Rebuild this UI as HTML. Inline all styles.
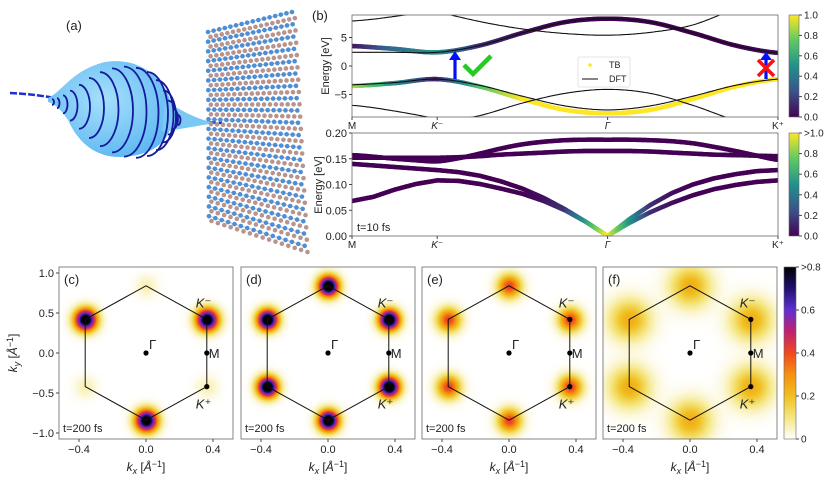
<!DOCTYPE html>
<html><head><meta charset="utf-8">
<style>
html,body{margin:0;padding:0;background:#fff;}
#wrap{position:relative;width:831px;height:479px;overflow:hidden;font-family:"Liberation Sans",sans-serif;}
canvas{position:absolute;}
svg{position:absolute;left:0;top:0;}
text{font-family:"Liberation Sans","DejaVu Sans",sans-serif;fill:#222;}
</style></head>
<body>
<div id="wrap">
<canvas id="hc" width="174" height="172" style="left:59px;top:267px"></canvas>
<canvas id="hd" width="174" height="172" style="left:241px;top:267px"></canvas>
<canvas id="he" width="174" height="172" style="left:422px;top:267px"></canvas>
<canvas id="hf" width="174" height="172" style="left:603px;top:267px"></canvas>
<svg id="svg" width="831" height="479" xmlns="http://www.w3.org/2000/svg">
<defs>
<linearGradient id="vir" x1="0" y1="1" x2="0" y2="0">
<stop offset="0" stop-color="#440154"/><stop offset="0.25" stop-color="#3b528b"/><stop offset="0.5" stop-color="#21918c"/><stop offset="0.75" stop-color="#5ec962"/><stop offset="1" stop-color="#fde725"/>
</linearGradient>
<linearGradient id="cmr" x1="0" y1="1" x2="0" y2="0">
<stop offset="0" stop-color="#ffffff"/><stop offset="0.125" stop-color="#f5e680"/><stop offset="0.25" stop-color="#f0c020"/><stop offset="0.375" stop-color="#f59010"/><stop offset="0.5" stop-color="#f04820"/><stop offset="0.625" stop-color="#c02070"/><stop offset="0.75" stop-color="#6030d0"/><stop offset="0.875" stop-color="#201070"/><stop offset="1" stop-color="#000000"/>
</linearGradient>
<clipPath id="clipTop"><rect x="352" y="15" width="426" height="102"/></clipPath>
<clipPath id="clipBot"><rect x="352" y="133" width="426" height="103"/></clipPath>
<radialGradient id="bulb" cx="0.45" cy="0.4" r="0.6"><stop offset="0" stop-color="#a6e0fc"/><stop offset="1" stop-color="#62baf2"/></radialGradient>
</defs>
<g id="panelA">
<text x="66" y="30" font-size="13">(a)</text>
</g>
<g id="lattice"></g>
<g id="topPanel"></g>
<g id="botPanel"></g>
<g id="bz"></g>
</svg>
</div>
<script>
// ===== Band structure data (top panel, eV) sampled along path s=0..2.5 step 0.25 =====
const pathS = [0,0.25,0.5,0.75,1.0,1.25,1.5,1.75,2.0,2.25,2.5];
const tbCond = [3.5,3.0,2.4,3.6,5.8,7.7,8.3,7.7,5.8,3.6,2.3];
const tbCondW = [0.05,0.35,0.5,0.15,0.05,0,0,0,0,0,0.05];
const tbVal = [-3.5,-3.0,-2.3,-3.6,-5.8,-7.7,-8.3,-7.7,-5.8,-3.6,-2.3];
const tbValW = [0.9,0.5,0.1,0.7,1,1,1,1,1,1,1];
const dft1 = [2.4,2.4,2.4,3.6,5.8,7.7,8.3,7.7,5.8,3.6,2.3];
const dft2 = [-3.3,-2.9,-2.3,-3.4,-5.3,-7.0,-7.7,-7.0,-5.3,-3.4,-2.3];
const dft3 = [14,12,9.6,7.8,6.5,5.7,5.4,5.9,7.2,10,12];
const dft4 = [7.9,8.7,10,12,14,14,14,14,14,14,14];
const dft5 = [-6.9,-7.9,-9.3,-11,-13,-14,-14,-14,-14,-14,-14];
const dft6 = [-14,-12,-10,-8.7,-6.5,-4.8,-4.1,-4.8,-6.9,-9.5,-11];
const topTicks = [-5,0,5];
// ===== Bottom panel (eV), sampled s=0..2.5 step 0.125 =====
const b1 = [0.068,0.076,0.09,0.101,0.108,0.107,0.101,0.092,0.082,0.068,0.05,0.027,0.0,0.025,0.046,0.064,0.079,0.091,0.099,0.105,0.108];
const b2 = [0.14,0.137,0.134,0.131,0.128,0.124,0.117,0.106,0.092,0.074,0.052,0.027,0.0,0.032,0.06,0.083,0.1,0.112,0.12,0.126,0.128];
const b3 = [0.157,0.154,0.15,0.147,0.145,0.151,0.16,0.17,0.178,0.183,0.186,0.187,0.187,0.187,0.186,0.184,0.18,0.173,0.165,0.156,0.148];
const b4 = [0.152,0.152,0.152,0.152,0.152,0.153,0.155,0.158,0.16,0.162,0.164,0.165,0.165,0.165,0.164,0.162,0.16,0.158,0.157,0.156,0.155];
const lowW = [0,0,0,0,0,0,0,0,0,0.05,0.15,0.55,1,0.55,0.15,0.05,0,0,0,0,0];
const zeroW = [0,0,0,0,0,0,0,0,0,0,0,0,0,0,0,0,0,0,0,0,0];
const botTicks = [0,0.05,0.10,0.15,0.20];
const botTickLabels = ["0.00","0.05","0.10","0.15","0.20"];
const pathLabels = ["M","K\u207B","\u0393","K\u207A"];
const pathLabelS = [0,0.5,1.5,2.5];
// ===== BZ heatmap data =====
const vertKx = [0,0.363,0.363,0,-0.363,-0.363];
const vertKy = [0.84,0.42,-0.42,-0.84,-0.42,0.42];
const ampC = [0.06,0.9,0.06,0.9,0.06,0.9];
const ampD = [0.95,0.95,0.95,0.95,0.95,0.95];
const ampE = [0.42,0.42,0.42,0.42,0.42,0.42];
const ampF = [0.24,0.24,0.24,0.24,0.24,0.24];
const kxTicks = [-0.4,0.0,0.4];
const kxTickLabels = ["\u22120.4","0.0","0.4"];
const kyTicks = [1.0,0.5,0.0,-0.5,-1.0];
const kyTickLabels = ["1.0","0.5","0.0","\u22120.5","\u22121.0"];
const cbarTicks = [0,0.2,0.4,0.6,0.8];
const cbarLabels = ["0","0.2","0.4","0.6",">0.8"];
const vcTicks = [0,0.2,0.4,0.6,0.8,1.0];
const vcLabels1 = ["0.0","0.2","0.4","0.6","0.8","1.0"];
const vcLabels2 = ["0.0","0.2","0.4","0.6","0.8",">1.0"];

const NS="http://www.w3.org/2000/svg";
function mk(tag,attrs,parent){const e=document.createElementNS(NS,tag);for(const k in attrs)e.setAttribute(k,attrs[k]);if(parent)parent.appendChild(e);return e;}

const xS = s => 352 + s*170.4;
const yTop = e => 66 - 5.7*e;
const yBot = e => 236 - e/0.2*103;

function interp(arr,s){
  const step=2.5/(arr.length-1);const t=s/step;let i=Math.floor(t);if(i>=arr.length-1)i=arr.length-2;const f=t-i;
  const p0=arr[Math.max(i-1,0)],p1=arr[i],p2=arr[i+1],p3=arr[Math.min(i+2,arr.length-1)];
  return 0.5*((2*p1)+(-p0+p2)*f+(2*p0-5*p1+4*p2-p3)*f*f+(-p0+3*p1-3*p2+p3)*f*f*f);
}
function interpL(arr,s){const step=2.5/(arr.length-1);const t=s/step;let i=Math.floor(t);if(i>=arr.length-1)i=arr.length-2;const f=t-i;return arr[i]*(1-f)+arr[i+1]*f;}
function lerpC(a,b,f){return a.map((v,i)=>Math.round(v+(b[i]-v)*f));}
const virStops=[[68,1,84],[59,82,139],[33,145,140],[94,201,98],[253,231,37]];
function viridis(w){w=Math.max(0,Math.min(1,w));const t=w*4;let i=Math.floor(t);if(i>=4)i=3;const c=lerpC(virStops[i],virStops[i+1],t-i);return `rgb(${c})`;}
const cmrStops=[[255,255,255],[245,230,128],[240,192,32],[245,144,16],[240,72,32],[192,32,112],[96,48,208],[32,16,112],[0,0,0]];
function cmr(v){v=Math.max(0,Math.min(0.8,v))/0.8*8;let i=Math.floor(v);if(i>=8)i=7;return lerpC(cmrStops[i],cmrStops[i+1],v-i);}

function curvePath(arr,yf){let d="";for(let k=0;k<=250;k++){const s=k/100;d+=(k?"L":"M")+xS(s).toFixed(1)+","+yf(interp(arr,s)).toFixed(1);}return d;}
function colorBand(g,arr,w,yf,width,name,lin){
  const grp=mk('g',{},g);
  
  
  const f=lin?interpL:interp;
  for(let k=0;k<250;k++){const s0=k/100,s1=(k+1)/100;
    mk('line',{x1:xS(s0),y1:yf(f(arr,s0)),x2:xS(s1),y2:yf(f(arr,s1)),stroke:viridis(interpL(w,(s0+s1)/2)),'stroke-width':width,'stroke-linecap':'round'},grp);}
}

// ===== Top panel =====
const tp=document.getElementById('topPanel');
const tc=mk('g',{'clip-path':'url(#clipTop)'},tp);
colorBand(tc,tbCond,tbCondW,yTop,4.5,'tb-conduction-band');
colorBand(tc,tbVal,tbValW,yTop,4.5,'tb-valence-band');
[dft1,dft2,dft3,dft4,dft5,dft6].forEach((a,i)=>{const p=mk('path',{d:curvePath(a,yTop),fill:'none',stroke:'#111','stroke-width':1.1},tc);});
mk('rect',{x:352,y:15,width:426,height:102,fill:'none',stroke:'#666','stroke-width':0.8},tp);
topTicks.forEach(t=>{mk('line',{x1:349,x2:352,y1:yTop(t),y2:yTop(t),stroke:'#444'},tp);const tx=mk('text',{x:347,y:yTop(t)+4,'font-size':11,'text-anchor':'end'},tp);tx.textContent=t<0?'\u2212'+(-t):t;});
pathLabelS.forEach((s,i)=>{mk('line',{x1:xS(s),x2:xS(s),y1:117,y2:120,stroke:'#444'},tp);const tx=mk('text',{x:xS(s),y:129,'font-size':10,'text-anchor':'middle','font-style':i%3?'italic':'normal'},tp);tx.textContent=pathLabels[i];});
let yl=mk('text',{x:0,y:0,'font-size':11,'text-anchor':'middle',transform:'translate(329,66) rotate(-90)'},tp);yl.textContent='Energy [eV]';

mk('line',{x1:455,x2:455,y1:79,y2:58,stroke:'#0010ff','stroke-width':3.2},tp);
mk('polygon',{points:'449,60 461,60 455,51',fill:'#0010ff'},tp);
mk('polyline',{points:'464,65 473,74 491,56',fill:'none',stroke:'#22cc22','stroke-width':4.5},tp);
mk('line',{x1:766,x2:766,y1:79,y2:58,stroke:'#0010ff','stroke-width':3.2},tp);
mk('polygon',{points:'760,60 772,60 766,52',fill:'#0010ff'},tp);
mk('line',{x1:758,y1:60,x2:774,y2:76,stroke:'#ff1010','stroke-width':3.5},tp);
mk('line',{x1:774,y1:60,x2:758,y2:76,stroke:'#ff1010','stroke-width':3.5},tp);
const lg=mk('g',{},tp);
mk('rect',{x:578,y:57,width:52,height:30,rx:2,fill:'#fff',stroke:'#ddd','stroke-width':0.8},lg);
mk('circle',{cx:590,cy:65,r:1.8,fill:'#fde725'},lg);
let lt=mk('text',{x:609,y:68,'font-size':9},lg);lt.textContent='TB';
mk('line',{x1:582,x2:598,y1:79,y2:79,stroke:'#222','stroke-width':1.1},lg);
lt=mk('text',{x:609,y:82,'font-size':9},lg);lt.textContent='DFT';
let pb=mk('text',{x:312,y:20,'font-size':13},tp);pb.textContent='(b)';
function vcbar(g,x,y0,y1,labels,name){const cb=mk('g',{},g);
  mk('rect',{x:x,y:y0,width:10,height:y1-y0,fill:'url(#vir)',stroke:'#666','stroke-width':0.6},cb);
  vcTicks.forEach((t,i)=>{const y=y1-(y1-y0)*t;mk('line',{x1:x+10,x2:x+13,y1:y,y2:y,stroke:'#444'},cb);const tx=mk('text',{x:x+15,y:y+3.5,'font-size':10},cb);tx.textContent=labels[i];});}
vcbar(tp,789,15,117,vcLabels1,'colorbar-top');

// ===== Bottom panel =====
const bp=document.getElementById('botPanel');
const bc=mk('g',{'clip-path':'url(#clipBot)'},bp);
colorBand(bc,b4,zeroW,yBot,4.5,'band-4',false);
colorBand(bc,b3,zeroW,yBot,4.5,'band-3',false);
colorBand(bc,b2,lowW,yBot,4.5,'band-2',true);
colorBand(bc,b1,lowW,yBot,4.5,'band-1',true);
mk('rect',{x:352,y:133,width:426,height:103,fill:'none',stroke:'#666','stroke-width':0.8},bp);
botTicks.forEach((t,i)=>{mk('line',{x1:349,x2:352,y1:yBot(t),y2:yBot(t),stroke:'#444'},bp);const tx=mk('text',{x:347,y:yBot(t)+4,'font-size':11,'text-anchor':'end'},bp);tx.textContent=botTickLabels[i];});
pathLabelS.forEach((s,i)=>{mk('line',{x1:xS(s),x2:xS(s),y1:236,y2:239,stroke:'#444'},bp);const tx=mk('text',{x:xS(s),y:248,'font-size':10,'text-anchor':'middle','font-style':i%3?'italic':'normal'},bp);tx.textContent=pathLabels[i];});
yl=mk('text',{x:0,y:0,'font-size':11,'text-anchor':'middle',transform:'translate(322,185) rotate(-90)'},bp);yl.textContent='Energy [eV]';

let t10=mk('text',{x:357,y:231,'font-size':11},bp);t10.textContent='t=10 fs';
vcbar(bp,789,133,236,vcLabels2,'colorbar-bottom');

// ===== BZ panels =====
const bz=document.getElementById('bz');
const panelX=[59,241,422,603];
const panelNames=['c','d','e','f'];
const amps=[ampC,ampD,ampE,ampF];
const sig=[7.5,7,8,14];
const canv=['hc','hd','he','hf'];
const kxPix=(px0,kx)=>px0+87+kx*167.5;
const kyPix=ky=>353-ky*80;
panelX.forEach((px0,p)=>{
  const cv=document.getElementById(canv[p]);const ctx=cv.getContext('2d');const img=ctx.createImageData(174,172);
  for(let y=0;y<172;y++)for(let x=0;x<174;x++){let v=0;
    for(let i=0;i<6;i++){const dx=x-(87+vertKx[i]*167.5),dy=y-(86-vertKy[i]*80);v+=amps[p][i]*Math.exp(-(dx*dx+dy*dy)/(2*sig[p]*sig[p]));}
    const c=cmr(v);const o=(y*174+x)*4;img.data[o]=c[0];img.data[o+1]=c[1];img.data[o+2]=c[2];img.data[o+3]=255;}
  ctx.putImageData(img,0,0);
  const g=mk('g',{},bz);
  mk('rect',{x:px0,y:267,width:174,height:172,fill:'none',stroke:'#666','stroke-width':0.8},g);
  let pts=vertKx.map((k,i)=>kxPix(px0,k).toFixed(1)+','+kyPix(vertKy[i]).toFixed(1)).join(' ');
  mk('polygon',{points:pts,fill:'none',stroke:'#111','stroke-width':1},g);
  [[0,0],[0.363,0],[0.363,0.42],[0.363,-0.42]].forEach(q=>mk('circle',{cx:kxPix(px0,q[0]),cy:kyPix(q[1]),r:2.6,fill:'#000'},g));
  let t=mk('text',{x:kxPix(px0,0)+3,y:kyPix(0)-4,'font-size':13},g);t.textContent='\u0393';
  t=mk('text',{x:kxPix(px0,0.363)+2,y:kyPix(0)+5,'font-size':13},g);t.textContent='M';
  t=mk('text',{x:kxPix(px0,0.363)-11,y:kyPix(0.42)-12,'font-size':13,'font-style':'italic'},g);t.textContent='K\u207B';
  t=mk('text',{x:kxPix(px0,0.363)-11,y:kyPix(-0.42)+22,'font-size':13,'font-style':'italic'},g);t.textContent='K\u207A';
  t=mk('text',{x:px0+5,y:284,'font-size':13},g);t.textContent='('+panelNames[p]+')';
  t=mk('text',{x:px0+4,y:432,'font-size':11},g);t.textContent='t=200 fs';
  kxTicks.forEach((k,i)=>{const x=kxPix(px0,k);mk('line',{x1:x,x2:x,y1:439,y2:442,stroke:'#444'},g);const tx=mk('text',{x:x,y:453,'font-size':11,'text-anchor':'middle'},g);tx.textContent=kxTickLabels[i];});
  t=mk('text',{x:px0+87,y:471,'font-size':12,'text-anchor':'middle'},g);
  t.innerHTML='<tspan font-style="italic">k</tspan><tspan font-size="9" dy="3" font-style="italic">x</tspan><tspan dy="-3"> [</tspan><tspan font-style="italic">Å</tspan><tspan font-size="9" dy="-4">\u22121</tspan><tspan dy="4">]</tspan>';
  
  if(p===0){
    kyTicks.forEach((k,i)=>{const y=kyPix(k);mk('line',{x1:56,x2:59,y1:y,y2:y,stroke:'#444'},g);const tx=mk('text',{x:54,y:y+4,'font-size':11,'text-anchor':'end'},g);tx.textContent=kyTickLabels[i];});
    t=mk('text',{x:0,y:0,'font-size':12,'text-anchor':'middle',transform:'translate(17,353) rotate(-90)'},g);
    t.innerHTML='<tspan font-style="italic">k</tspan><tspan font-size="9" dy="3" font-style="italic">y</tspan><tspan dy="-3"> [</tspan><tspan font-style="italic">Å</tspan><tspan font-size="9" dy="-4">\u22121</tspan><tspan dy="4">]</tspan>';
    
  }
});
const hcb=mk('g',{},bz);
mk('rect',{x:784,y:267,width:12,height:172,fill:'url(#cmr)',stroke:'#666','stroke-width':0.6},hcb);
cbarTicks.forEach((t,i)=>{const y=439-172*t/0.8;mk('line',{x1:796,x2:799,y1:y,y2:y,stroke:'#444'},hcb);const tx=mk('text',{x:801,y:y+3.5,'font-size':10},hcb);tx.textContent=cbarLabels[i];});

// ===== Panel (a) illustration =====
const pa=document.getElementById('panelA');
mk('path',{d:'M10,93 C30,94 45,96 60,99',stroke:'#1d2fd0','stroke-width':2.5,fill:'none','stroke-dasharray':'7,2'},pa);
mk('path',{d:'M165,118 C185,121 200,122 222,123',stroke:'#1d2fd0','stroke-width':2.5,fill:'none','stroke-dasharray':'6,3'},pa);
mk('path',{d:'M48,98 C62,92 72,70 105,62 C140,56 168,80 172,108 C175,135 160,155 122,157 C92,158 76,138 68,120 C60,108 54,104 48,102 Z',fill:'url(#bulb)'},pa);
mk('path',{d:'M165,100 C182,112 200,120 215,123 L162,132 Z',fill:'#7cc8f5'},pa);
const ringX=[52,57,63,70,79,89,100,112,124,136,147,156,163,168,173,178];
const ringRy=[3,5,9,15,22,30,37,42,45,45,42,35,26,17,10,5];
ringX.forEach((x,i)=>mk('path',{d:`M${x},${102+i*1.2-ringRy[i]} A${Math.max(2,ringRy[i]*0.5)},${ringRy[i]} 0 0 1 ${x},${102+i*1.2+ringRy[i]}`,fill:'none',stroke:'#141a9a','stroke-width':1.8},pa));
// lattice
const lat=document.getElementById('lattice');
const TL=[208,32],TR=[292,12],BL=[209,221],BR=[305,252];
const rows=40,cols=16;
function lp(u,v){return [(1-v)*((1-u)*TL[0]+u*TR[0])+v*((1-u)*BL[0]+u*BR[0]),(1-v)*((1-u)*TL[1]+u*TR[1])+v*((1-u)*BL[1]+u*BR[1])];}
for(let i=0;i<rows;i+=2){const a=lp(0,i/(rows-1)),b=lp(1,i/(rows-1)),c=lp(0,(i+1)/(rows-1)),d=lp(1,(i+1)/(rows-1));
  mk('line',{x1:a[0],y1:a[1],x2:b[0],y2:b[1],stroke:'#c8b8b4','stroke-width':1},lat);}
for(let i=0;i<rows;i++){for(let j=0;j<cols;j++){
  const q=lp(j/(cols-1),i/(rows-1));const blue=(i%2===0);
  mk('circle',{cx:q[0]+(blue?0:2.5),cy:q[1],r:2.3,fill:blue?'#4a8fd8':'#b9948c'},lat);}}
</script>
</body></html>
